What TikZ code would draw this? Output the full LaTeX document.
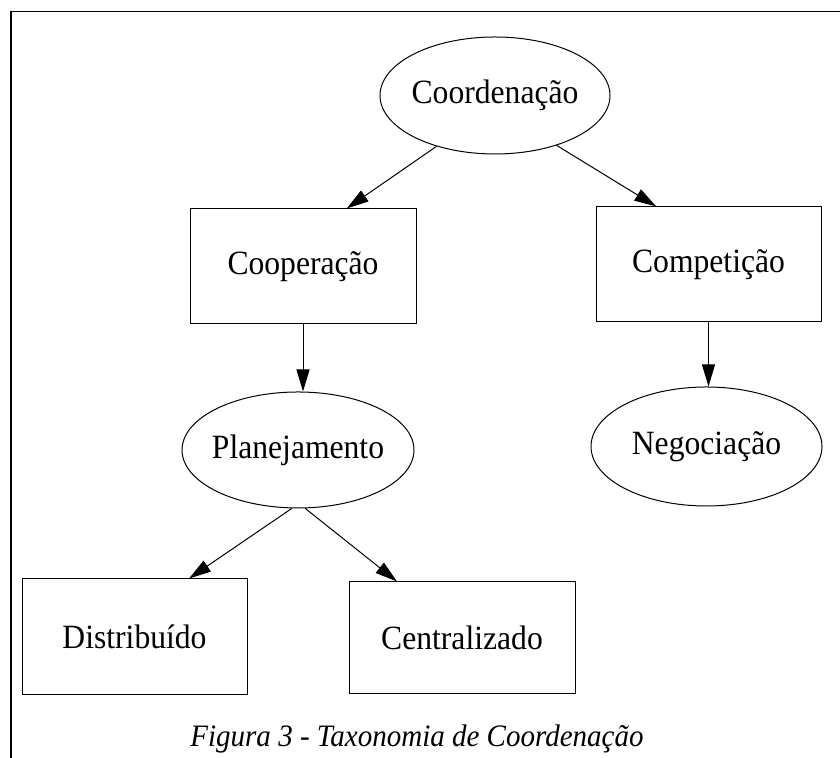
\documentclass[tikz,border=0pt]{standalone}
\usepackage{fontspec}
\setmainfont{Liberation Serif}[FakeStretch=0.93]
\usetikzlibrary{shapes.geometric,arrows.meta}

\begin{document}
\begin{tikzpicture}[
      x = 0.5pt, y = 0.5pt,
      E/.style={draw, shape = ellipse, inner sep=0pt, inner xsep=-12pt, line width = 0.5pt, font=\fontsize{17}{20}\selectfont},
      R/.style={draw, shape = rectangle, inner sep=0pt, line width = 0.5pt, font=\fontsize{17}{20}\selectfont},
      A/.style={-{Triangle[length=11pt, width=6.5pt]}, line width = 0.5pt}
    ]
    \useasboundingbox (0,0) rectangle (840,758);
    \draw [line width = 0.7pt] (11,0) -- (11,746.5) -- (840,746.5);
    \draw (495,662.5) node [E, minimum width = 115pt, minimum height = 58.5pt] (coord) {Coordenação};
    \draw (303,491.5) node [R, minimum width = 113pt, minimum height = 57.5pt] (coop) {Cooperação};
    \draw (708.5,493.5) node [R, minimum width = 112.5pt, minimum height = 57.5pt] (comp) {Competição};
    \draw (298,308) node [E, minimum width = 116pt, minimum height = 58pt] (plan) {Planejamento};
    \draw (706.5,311.5) node [E, minimum width = 115.5pt, minimum height = 59.5pt] (nego) {Negociação};
    \draw (134.5,121) node [R, minimum width = 112.5pt, minimum height = 58pt] (dist) {Distribuído};
    \draw (462,120) node [R, minimum width = 113pt, minimum height = 56pt] (cent) {Centralizado};
    \draw (417,11) node [anchor = base, font=\itshape\fontsize{15.6}{18}\selectfont] (cap) {Figura 3 - Taxonomia de Coordenação};
    \draw [A] (coord.221) -- (coop.53);
    \draw [A] (coord.321) -- (comp.132);
    \draw [A] (coop.south) -- (coop.south |- plan.north);
    \draw [A] (comp.south) -- (comp.south |- nego.north);
    \draw [A] (plan.264) -- (dist.47);
    \draw [A] (plan.277) -- (cent.139);
  \end{tikzpicture}
\end{document}
